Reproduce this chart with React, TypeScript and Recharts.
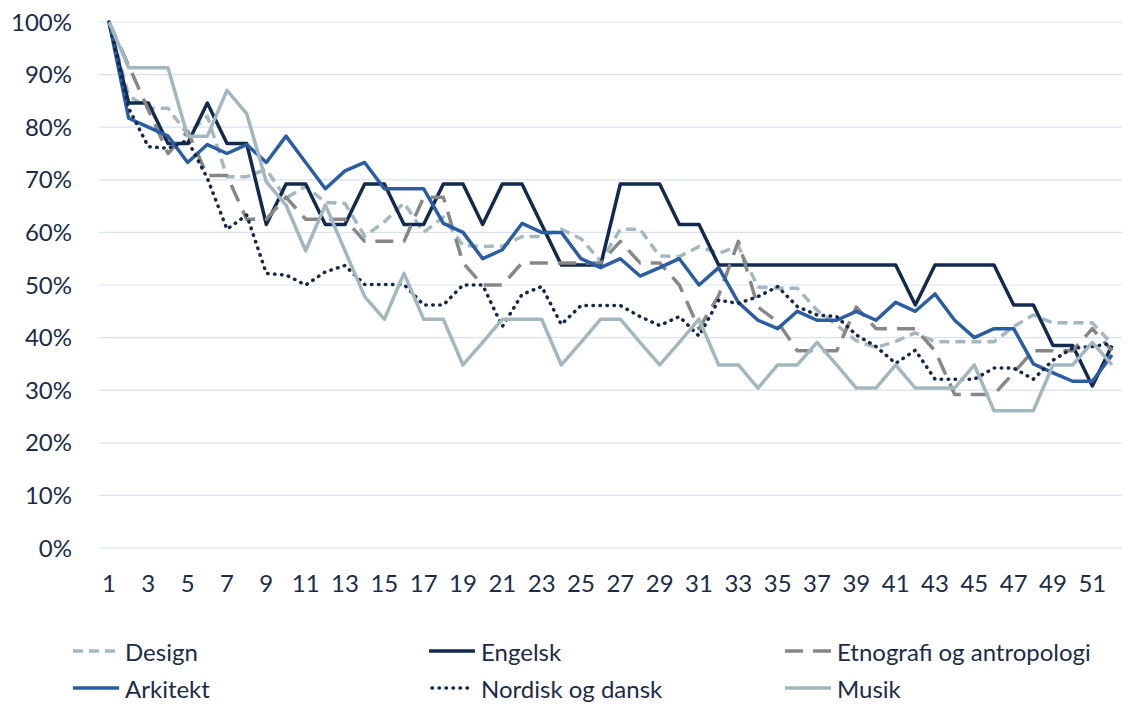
import { CartesianGrid, Line, LineChart, XAxis, YAxis } from "recharts";

const weeks = [
  1, 2, 3, 4, 5, 6, 7, 8, 9, 10, 11, 12, 13, 14, 15, 16, 17, 18, 19, 20, 21, 22, 23, 24, 25, 26,
  27, 28, 29, 30, 31, 32, 33, 34, 35, 36, 37, 38, 39, 40, 41, 42, 43, 44, 45, 46, 47, 48, 49, 50, 51, 52,
];

const design = [
  100, 86, 83.6, 83.6, 78.6, 82.1, 70.6, 70.6, 72, 66.5, 68.8, 65.7, 65.5, 59.3, 62, 65.6, 60, 62.9,
  57.5, 57.3, 57.4, 59.2, 59.2, 60.6, 58.8, 54.5, 60.6, 60.6, 55.5, 55.4, 57.3, 56, 57.4, 49.6, 49.4,
  49.4, 45.2, 42.4, 39.4, 38.1, 39.3, 40.9, 39.2, 39.2, 39.2, 39.2, 42.1, 44.3, 42.8, 42.8, 42.8, 38.8,
];
const engelsk = [
  100, 84.6, 84.6, 76.9, 76.9, 84.6, 76.9, 76.9, 61.5, 69.2, 69.2, 61.5, 61.5, 69.2, 69.2, 61.5, 61.5,
  69.2, 69.2, 61.5, 69.2, 69.2, 61.5, 53.8, 53.8, 53.8, 69.2, 69.2, 69.2, 61.5, 61.5, 53.8, 53.8, 53.8,
  53.8, 53.8, 53.8, 53.8, 53.8, 53.8, 53.8, 46.2, 53.8, 53.8, 53.8, 53.8, 46.2, 46.2, 38.5, 38.5, 30.8, 38.5,
];
const etnografi = [
  100, 91.7, 83.3, 75, 79.2, 70.8, 70.8, 62.5, 62.5, 66.7, 62.5, 62.5, 62.5, 58.3, 58.3, 58.3, 66.7,
  66.7, 54.2, 50, 50, 54.2, 54.2, 54.2, 54.2, 54.2, 58.3, 54.2, 54.2, 50, 41.7, 48, 58.3, 45.8, 43,
  37.5, 37.5, 37.5, 45.8, 41.7, 41.7, 41.7, 37.5, 29.2, 29.2, 29.2, 33.3, 37.5, 37.5, 37.5, 41.7, 37.5,
];
const arkitekt = [
  100, 81.7, 80, 78.3, 73.3, 76.7, 75, 76.7, 73.3, 78.3, 73.3, 68.3, 71.7, 73.3, 68.3, 68.3, 68.3,
  61.7, 60, 55, 56.7, 61.7, 60, 60, 55, 53.3, 55, 51.7, 53.3, 55, 50, 53.3, 46.7, 43.3, 41.7, 45,
  43.3, 43.3, 45, 43.3, 46.7, 45, 48.3, 43.3, 40, 41.7, 41.7, 35, 33.3, 31.7, 31.7, 36.7,
];
const nordisk = [
  100, 83.6, 76.3, 76, 77.5, 70.3, 60.6, 63.3, 52.2, 51.9, 50, 52.5, 53.7, 50.1, 50.1, 50.1, 46.2,
  46.2, 50, 50, 42.1, 48.2, 49.7, 42.5, 46.1, 46.1, 46.1, 44, 42.3, 44, 40.3, 47.1, 46.5, 47.8, 49.7,
  45.9, 44.3, 44, 40.5, 38.3, 35.1, 37.6, 32.1, 32.1, 32.1, 34.2, 34.2, 32.1, 35.7, 38, 38.3, 38.9,
];
const musik = [
  100, 91.3, 91.3, 91.3, 78.3, 78.3, 87, 82.6, 69.6, 65.2, 56.5, 65.2, 56.5, 47.8, 43.5, 52.2, 43.5,
  43.5, 34.8, 39.1, 43.5, 43.5, 43.5, 34.8, 39.1, 43.5, 43.5, 39.1, 34.8, 39.1, 43.5, 34.8, 34.8,
  30.4, 34.8, 34.8, 39.1, 34.8, 30.4, 30.4, 34.8, 30.4, 30.4, 30.4, 34.8, 26.1, 26.1, 26.1, 34.8,
  34.8, 39.1, 34.8,
];

const yTicks = [0, 10, 20, 30, 40, 50, 60, 70, 80, 90, 100];

const TEXT = "#1C2B4A";
const FONT = "Lato, 'Open Sans', sans-serif";

const series = [
  { key: "design", name: "Design", color: "#A5B8BF", dash: "10 6", cap: "butt" },
  { key: "engelsk", name: "Engelsk", color: "#132A50", dash: undefined, cap: "butt" },
  { key: "etnografi", name: "Etnografi og antropologi", color: "#878787", dash: "18 10", cap: "butt" },
  { key: "arkitekt", name: "Arkitekt", color: "#2A5DA3", dash: undefined, cap: "butt" },
  { key: "nordisk", name: "Nordisk og dansk", color: "#14284B", dash: "0.5 6.5", cap: "round" },
  { key: "musik", name: "Musik", color: "#A3B7BE", dash: undefined, cap: "butt" },
] as const;

const rows = weeks.map((w, i) => ({
  week: w,
  design: design[i],
  engelsk: engelsk[i],
  etnografi: etnografi[i],
  arkitekt: arkitekt[i],
  nordisk: nordisk[i],
  musik: musik[i],
}));

function LegendBox() {
  return (
    <>
      {series.map((s, i) => {
        const col = i % 3;
        const row = Math.floor(i / 3);
        return (
          <div
            key={s.key}
            style={{
              position: "absolute",
              left: 73 + col * 356,
              top: 635 + row * 37,
              height: 32,
              display: "flex",
              alignItems: "center",
              fontFamily: FONT,
              fontSize: 24,
              color: TEXT,
              whiteSpace: "nowrap",
            }}
          >
            <svg width={46} height={10} style={{ marginRight: 6 }}>
              <line
                x1={s.cap === "round" ? 3 : 0}
                y1={5}
                x2={s.cap === "round" ? 43 : 46}
                y2={5}
                stroke={s.color}
                strokeWidth={3.5}
                strokeDasharray={s.dash}
                strokeLinecap={s.cap}
              />
            </svg>
            {s.name}
          </div>
        );
      })}
    </>
  );
}

export default function App() {
  return (
    <div style={{ position: "absolute", left: 0, top: 0, width: 1133, height: 704, background: "#fff" }}>
      <LineChart width={1133} height={704} data={rows} margin={{ top: 22, right: 11, bottom: 116, left: 0 }}>
        <CartesianGrid horizontal vertical={false} stroke="#D9E1F2" strokeWidth={1.2} />
        <XAxis
          dataKey="week"
          interval={1}
          height={40}
          padding={{ left: 10, right: 10 }}
          axisLine={false}
          tickLine={false}
          tickMargin={21}
          tick={{ fontSize: 24, fontFamily: FONT, fill: TEXT }}
        />
        <YAxis
          domain={[0, 100]}
          ticks={yTicks}
          width={99}
          axisLine={false}
          tickLine={false}
          tickMargin={21}
          tickFormatter={(v: number) => `${v}%`}
          tick={{ fontSize: 24, fontFamily: FONT, fill: TEXT }}
        />
        {series.map((s) => (
          <Line
            key={s.key}
            type="linear"
            dataKey={s.key}
            name={s.name}
            stroke={s.color}
            strokeWidth={3.5}
            strokeDasharray={s.dash}
            strokeLinecap={s.cap}
            strokeLinejoin="round"
            dot={false}
            activeDot={false}
            isAnimationActive={false}
          />
        ))}
      </LineChart>
      <LegendBox />
    </div>
  );
}
